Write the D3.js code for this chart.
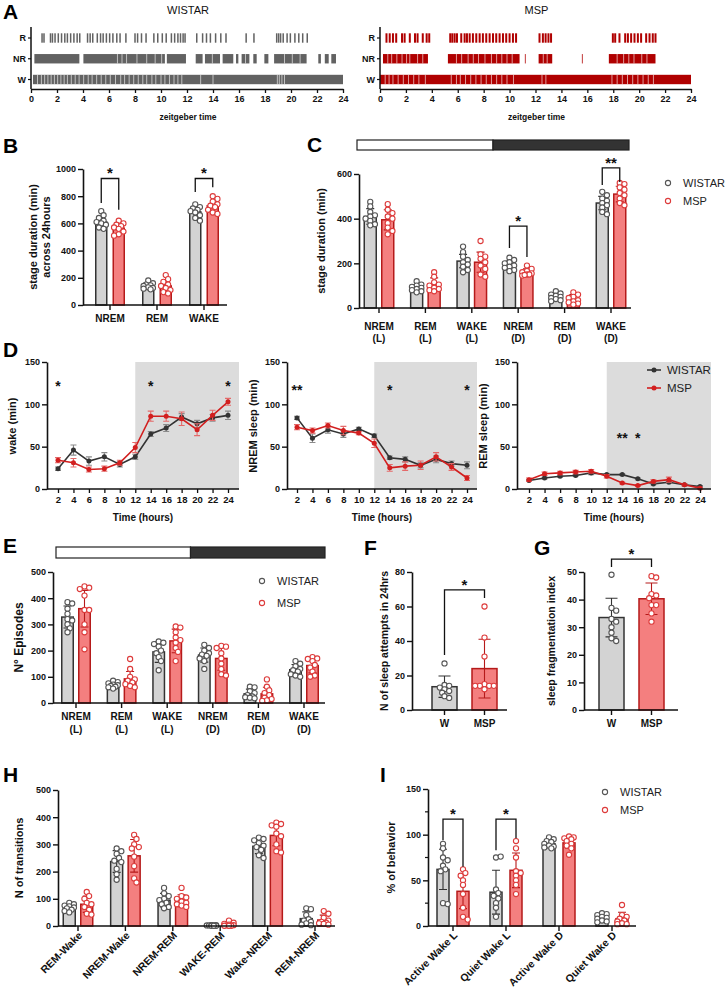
<!DOCTYPE html>
<html>
<head>
<meta charset="utf-8">
<script src="https://cdn.jsdelivr.net/npm/d3@7"></script>
<style>
body { margin: 0; background: #fff; }
svg { display: block; font-family: "Liberation Sans", Arial, sans-serif; }
</style>
</head>
<body>
<svg width="726" height="991"></svg>
<script>
const svg = d3.select("svg");
const FONT = "'Liberation Sans', Arial, sans-serif";

// colours used across panels
const GRAY = { fill: "#d3d3d3", line: "#333333", pt: "#555555" };
const RED = { fill: "#f47f7f", line: "#b51a1a", pt: "#dd3b3b" };

// ---------- A: hypnograms (zeitgeber hours) ----------
const hypTicks = [0, 2, 4, 6, 8, 10, 12, 14, 16, 18, 20, 22, 24];
const hypRows = ["R", "NR", "W"];

const wistarR = [0.85, 1.0, 1.5, 1.65, 1.85, 2.1, 2.35, 2.6, 2.8, 3.05, 3.3, 3.55, 3.75,
  4.35, 4.55, 4.75, 5.1, 5.35, 5.55, 5.8, 6.05, 6.3, 6.6, 6.85, 7.3, 8.0, 8.2, 8.5, 8.85,
  9.45, 9.75, 10.1, 10.4, 10.8, 11.05, 11.3, 11.5, 11.7, 11.85, 12.75, 13.2, 13.5, 13.8,
  14.2, 14.6, 15.0, 16.55, 17.15, 18.9, 19.05, 19.2, 19.4, 19.7, 19.95, 20.3, 20.6, 20.9, 21.25];
const wistarNR = [[0.26, 3.72], [4.03, 10.3], [10.45, 11.92], [12.67, 13.2], [13.38, 14.54],
  [14.74, 15.56], [15.77, 15.95], [16.2, 16.8], [17.1, 17.36], [17.95, 18.26], [18.7, 21.2],
  [22.1, 22.3], [22.6, 22.9], [23.1, 23.46]];
const wistarNRgaps = [6.65, 7.0, 7.35, 8.15, 8.9, 9.55, 10.05, 13.95, 16.5, 19.5, 20.1, 20.7];
const wistarW = [[0.15, 24]];
const wistarWgaps = [0.5, 0.8, 1.05, 1.3, 1.55, 1.8, 2.05, 2.3, 2.55, 2.8, 3.1, 3.4, 3.7, 4.05,
  4.4, 4.7, 5.05, 5.4, 5.75, 6.1, 6.5, 6.9, 7.2, 7.55, 7.9, 8.25, 8.6, 8.9, 9.3, 9.6, 10.0, 10.3,
  10.65, 11.0, 11.3, 11.6, 13.05, 14.0, 18.95, 19.1, 19.3, 19.5];

const mspR = [0.5, 0.75, 1.0, 1.25, 1.7, 1.9, 2.3, 2.7, 2.9, 3.3, 3.6, 3.8, 5.42, 5.58, 5.76,
  5.94, 6.27, 6.53, 6.71, 6.92, 7.17, 7.43, 7.69, 7.94, 8.2, 8.46, 8.72, 8.97, 9.23, 9.49, 9.74,
  10.0, 10.26, 10.5, 12.31, 12.57, 12.78, 13.0, 13.2, 17.97, 18.15, 18.48, 18.92, 19.13, 19.38,
  19.64, 19.9, 20.15, 20.54, 20.8, 21.05, 21.26];
const mspNR = [[0.23, 3.7], [5.24, 10.77], [11.18, 11.24], [12.24, 13.29], [15.58, 15.64], [17.66, 21.26]];
const mspNRgaps = [0.6, 0.9, 1.3, 1.7, 2.05, 2.3, 2.9, 3.3, 5.9, 6.3, 6.8, 7.2, 7.6, 8.1, 8.6, 9.0,
  9.4, 9.8, 10.2, 12.6, 12.9, 18.3, 18.8, 19.2, 19.6, 20.2, 20.6];
const mspW = [[0, 24]];
const mspWgaps = [0.4, 0.7, 1.0, 1.4, 1.8, 2.2, 2.6, 3.0, 3.5, 5.5, 5.9, 6.2, 6.6, 7.0, 7.4, 7.8,
  8.2, 8.6, 9.0, 9.4, 9.8, 10.3, 12.5, 12.8, 17.9, 18.3, 18.7, 19.1, 19.5, 19.9, 20.3, 20.7, 21.1];

// ---------- B: stage duration across 24h ----------
const bCats = [["NREM"], ["REM"], ["WAKE"]];
const bMeanW = [610, 140, 685];
const bMeanM = [565, 140, 730];
const bErrW = [15, 8, 12];
const bErrM = [12, 14, 14];
const bPtsW = [[690, 660, 640, 620, 610, 600, 590, 570, 560], [180, 160, 150, 145, 140, 130, 125, 120, 115],
  [740, 720, 710, 700, 690, 680, 660, 640, 620]];
const bPtsM = [[620, 600, 590, 580, 570, 560, 540, 520, 510], [220, 190, 170, 150, 140, 125, 110, 95, 85],
  [800, 780, 760, 740, 730, 720, 700, 680, 670]];

// ---------- C: stage duration light / dark ----------
const cCats = [["NREM", "(L)"], ["REM", "(L)"], ["WAKE", "(L)"], ["NREM", "(D)"], ["REM", "(D)"], ["WAKE", "(D)"]];
const cMeanW = [410, 90, 210, 190, 50, 470];
const cMeanM = [395, 105, 205, 160, 40, 510];
const cErrW = [35, 15, 30, 20, 15, 30];
const cErrM = [45, 30, 45, 15, 20, 35];
const cPtsW = [[475, 455, 430, 415, 410, 400, 390, 375, 370], [120, 105, 100, 95, 90, 85, 80, 75, 70],
  [275, 250, 230, 215, 205, 195, 185, 170, 160], [225, 215, 205, 200, 190, 185, 180, 170, 165],
  [75, 65, 60, 55, 50, 45, 40, 35, 30], [520, 505, 490, 480, 470, 460, 450, 430, 420]];
const cPtsM = [[465, 440, 425, 410, 400, 380, 360, 345, 330], [160, 140, 115, 105, 100, 90, 85, 80, 75],
  [300, 240, 230, 220, 205, 190, 175, 150, 140], [190, 175, 165, 160, 155, 150, 150, 145, 148],
  [70, 60, 50, 45, 35, 30, 25, 20, 15], [560, 555, 540, 530, 515, 505, 490, 470, 460]];

// ---------- D: hourly time course ----------
const dHours = [2, 4, 6, 8, 10, 12, 14, 16, 18, 20, 22, 24];
const wakeW = [24, 46, 33, 38, 29, 38, 65, 72, 85, 77, 84, 87];
const wakeWErr = [2, 6, 5, 5, 3, 3, 3, 4, 4, 4, 4, 5];
const wakeM = [34, 31, 23, 24, 31, 49, 86, 86, 83, 70, 87, 103];
const wakeMErr = [3, 5, 3, 3, 3, 6, 6, 6, 8, 7, 6, 4];
const nremW = [84, 60, 70, 65, 71, 63, 37, 35, 28, 35, 30, 28];
const nremWErr = [2, 5, 4, 4, 2, 2, 2, 3, 3, 4, 3, 4];
const nremM = [73, 69, 75, 69, 66, 54, 25, 27, 28, 38, 26, 13];
const nremMErr = [3, 3, 3, 5, 2, 5, 4, 5, 5, 5, 4, 3];
const remW = [10, 13, 15, 16, 19, 17, 17, 12, 6, 8, 5, 3];
const remWErr = [1, 1, 1, 1, 2, 1, 1, 1, 1, 1, 1, 1];
const remM = [11, 18, 19, 20, 21, 15, 7, 4, 9, 11, 5, 1];
const remMErr = [2, 2, 2, 2, 2, 2, 1, 1, 2, 3, 1, 1];
const dTicksY = [0, 50, 100, 150];

// ---------- E: number of episodes ----------
const eMeanW = [328, 70, 195, 183, 35, 127];
const eMeanM = [360, 92, 237, 170, 35, 143];
const eErrW = [42, 10, 40, 27, 18, 20];
const eErrM = [70, 28, 45, 45, 25, 28];
const ePtsW = [[385, 380, 360, 340, 320, 315, 300, 285, 270], [85, 80, 75, 70, 68, 65, 62, 60, 55],
  [235, 230, 225, 215, 200, 190, 175, 160, 125], [222, 210, 200, 190, 185, 180, 170, 160, 130],
  [62, 60, 45, 38, 30, 25, 22, 20, 18], [160, 150, 140, 130, 125, 120, 110, 105, 100]];
const ePtsM = [[445, 440, 435, 410, 355, 355, 300, 270, 205], [168, 130, 100, 90, 85, 78, 72, 65, 60],
  [292, 288, 270, 250, 240, 230, 210, 195, 160], [218, 215, 210, 190, 170, 150, 130, 110, 105],
  [90, 62, 48, 38, 30, 20, 15, 10, 8], [175, 170, 168, 160, 145, 135, 120, 105, 100]];

// ---------- F / G ----------
const fgCats = [["W"], ["MSP"]];
const fMean = [13.5, 24];
const fErr = [6.2, 17];
const fPts = [[27, 14.5, 14, 13, 12, 11, 10, 8, 7], [60, 42, 31, 15, 14, 14, 14, 14, 12]];
const gMean = [33.5, 40.3];
const gErr = [7, 5.7];
const gPts = [[49, 37, 36, 33, 32, 30, 28, 26, 25], [48.5, 48, 42, 41.5, 40.5, 38, 38, 35, 32]];

// ---------- H: transitions ----------
const hCats = ["REM-Wake", "NREM-Wake", "NREM-REM", "WAKE-REM", "Wake-NREM", "REM-NREM"];
const hMeanW = [67, 237, 95, 2, 293, 27];
const hMeanM = [80, 258, 93, 5, 333, 22];
const hErrW = [12, 40, 25, 1, 27, 25];
const hErrM = [30, 60, 22, 7, 38, 18];
const hPtsW = [[85, 80, 75, 72, 68, 65, 60, 55, 50], [285, 275, 265, 250, 240, 235, 210, 190, 170],
  [140, 120, 110, 100, 95, 85, 80, 70, 65], [3, 3, 2, 2, 2, 2, 1, 1, 1],
  [325, 320, 315, 305, 295, 290, 280, 260, 250], [65, 62, 40, 25, 20, 15, 10, 5, 3]];
const hPtsM = [[125, 110, 100, 85, 80, 70, 60, 45, 42], [335, 320, 300, 290, 285, 255, 220, 175, 160],
  [140, 110, 105, 100, 90, 85, 80, 75, 70], [20, 12, 8, 5, 3, 2, 1, 1, 1],
  [380, 375, 370, 365, 340, 330, 300, 275, 270], [55, 45, 30, 20, 15, 12, 10, 8, 5]];

// ---------- I: behaviour ----------
const iCats = ["Active Wake L", "Quiet Wake L", "Active Wake D", "Quiet Wake D"];
const iMeanW = [62, 37, 90, 9];
const iMeanM = [38, 61, 91, 8];
const iErrW = [22, 24, 4, 4];
const iErrM = [19, 19, 6, 7];
const iPtsW = [[90, 85, 75, 72, 66, 62, 60, 25, 24], [75, 76, 40, 36, 33, 30, 25, 20, 10],
  [97, 95, 93, 92, 90, 88, 87, 86, 85], [14, 13, 12, 10, 9, 8, 6, 5, 4]];
const iPtsM = [[62, 58, 55, 50, 45, 35, 20, 10, 7], [93, 85, 75, 60, 58, 55, 50, 45, 35],
  [98, 97, 96, 95, 93, 90, 88, 85, 78], [23, 12, 10, 8, 6, 5, 3, 2, 2]];

// ================= helpers =================
function txt(g, x, y, s, size, opts = {}) {
  return g.append("text").attr("x", x).attr("y", y).text(s)
    .attr("font-family", FONT).attr("font-size", size)
    .attr("font-weight", opts.bold ? "bold" : "normal")
    .attr("text-anchor", opts.anchor || "middle")
    .attr("fill", opts.fill || "#111");
}

function panelLetter(x, y, s) {
  txt(svg, x, y, s, 21, { bold: true, anchor: "start", fill: "#000" });
}

function yTitle(g, x, yc, lines, size = 11) {
  lines.forEach((l, k) => {
    g.append("text").attr("transform", `translate(${x + k * 13},${yc}) rotate(-90)`)
      .attr("text-anchor", "middle").attr("font-family", FONT).attr("font-size", size)
      .attr("font-weight", "bold").attr("fill", "#111").text(l);
  });
}

function yAxis(g, y, x, ticks, minor) {
  const ax = g.append("g").attr("transform", `translate(${x},0)`)
    .call(d3.axisLeft(y).tickValues(ticks).tickFormat(d3.format("d"))
      .tickSize(5).tickSizeOuter(0).tickPadding(2));
  ax.select(".domain").attr("stroke", "#111").attr("stroke-width", 1.6);
  ax.selectAll(".tick line").attr("stroke", "#111").attr("stroke-width", 1.4);
  ax.selectAll(".tick text").attr("font-family", FONT).attr("font-size", 9)
    .attr("font-weight", "bold").attr("fill", "#111");
  if (minor) {
    g.selectAll(null).data(minor).join("line")
      .attr("x1", x - 3).attr("x2", x).attr("y1", d => y(d)).attr("y2", d => y(d))
      .attr("stroke", "#111").attr("stroke-width", 1.2);
  }
}

// place points near the bar centre, nudging sideways only as much as needed
function dodge(ys, r, lim) {
  const placed = [];
  const cands = [0];
  for (let k = 1; k <= 8; k++) cands.push(k * r * 0.9, -k * r * 0.9);
  return ys.map(py => {
    let best = 0, bestD = -1;
    for (const c of cands) {
      if (Math.abs(c) > lim) continue;
      const dmin = placed.length ? d3.min(placed, p => Math.hypot(p[0] - c, p[1] - py)) : Infinity;
      if (dmin >= r * 1.6) { best = c; bestD = Infinity; break; }
      if (dmin > bestD) { bestD = dmin; best = c; }
    }
    placed.push([best, py]);
    return best;
  });
}

function star(g, x, yc, s, size = 15) {
  txt(g, x, yc + size * 0.55, s, size, { bold: true });
}

function legendDots(g, x, y, gap) {
  [["WISTAR", GRAY.pt], ["MSP", RED.pt]].forEach(([name, c], k) => {
    g.append("circle").attr("cx", x).attr("cy", y + k * gap).attr("r", 2.6)
      .attr("fill", "#fff").attr("stroke", c).attr("stroke-width", 1.1);
    txt(g, x + 15, y + k * gap + 4, name, 11, { anchor: "start", fill: "#222" });
  });
}

function lightDark(x0, x1, y, h) {
  const xm = (x0 + x1) / 2;
  svg.append("rect").attr("x", x0).attr("y", y).attr("width", xm - x0).attr("height", h)
    .attr("fill", "#fff").attr("stroke", "#222").attr("stroke-width", 1.2);
  svg.append("rect").attr("x", xm).attr("y", y).attr("width", x1 - xm).attr("height", h)
    .attr("fill", "#333").attr("stroke", "#222").attr("stroke-width", 1.2);
}

// ================= A =================
function hypno(o) {
  const g = svg.append("g");
  const x = d3.scaleLinear().domain([0, 24]).range(o.ax);
  const y = d3.scalePoint().domain(hypRows).range([38, 79.5]);
  const h = 9.4;
  const col = o.color;

  g.selectAll(null).data(o.R).join("rect")
    .attr("x", d => x(d) - o.rw / 2).attr("y", y("R") - h / 2).attr("width", o.rw).attr("height", h)
    .attr("fill", col);
  [["NR", o.NR, o.NRgaps], ["W", o.W, o.Wgaps]].forEach(([row, segs, gaps]) => {
    g.selectAll(null).data(segs).join("rect")
      .attr("x", d => x(d[0])).attr("y", y(row) - h / 2)
      .attr("width", d => x(d[1]) - x(d[0])).attr("height", h).attr("fill", col);
    g.selectAll(null).data(gaps).join("rect")
      .attr("x", d => x(d) - 0.5).attr("y", y(row) - h / 2).attr("width", 1).attr("height", h)
      .attr("fill", "#fff").attr("opacity", 0.6);
  });

  const xa = g.append("g").attr("transform", "translate(0,89)")
    .call(d3.axisBottom(x).tickValues(hypTicks).tickSize(4).tickSizeOuter(0).tickPadding(3));
  xa.select(".domain").attr("stroke", "#111").attr("stroke-width", 1.5);
  xa.selectAll(".tick line").attr("stroke", "#111").attr("stroke-width", 1.3);
  xa.selectAll(".tick text").attr("font-family", FONT).attr("font-size", 9)
    .attr("font-weight", "bold").attr("fill", "#111");

  g.append("line").attr("x1", o.ax[0]).attr("x2", o.ax[0]).attr("y1", 27).attr("y2", 89)
    .attr("stroke", "#111").attr("stroke-width", 1.5);
  hypRows.forEach(r => {
    g.append("line").attr("x1", o.ax[0] - 3).attr("x2", o.ax[0]).attr("y1", y(r)).attr("y2", y(r))
      .attr("stroke", "#111").attr("stroke-width", 1.2);
    txt(g, o.ax[0] - 5, y(r) + 3.3, r, 9, { bold: true, anchor: "end" });
  });
  txt(g, (o.ax[0] + o.ax[1]) / 2 + 1, 14, o.title, 11);
  txt(g, (o.ax[0] + o.ax[1]) / 2 + 1, 120, "zeitgeber time", 8.5, { bold: true });
}

panelLetter(3, 19, "A");
hypno({ ax: [31, 343], title: "WISTAR", color: "#626262", rw: 1.5,
  R: wistarR, NR: wistarNR, NRgaps: wistarNRgaps, W: wistarW, Wgaps: wistarWgaps });
hypno({ ax: [380, 691], title: "MSP", color: "#b00000", rw: 2,
  R: mspR, NR: mspNR, NRgaps: mspNRgaps, W: mspW, Wgaps: mspWgaps });

// ================= bar panels =================
function barPanel(o) {
  const g = svg.append("g");
  const y = d3.scaleLinear().domain([0, o.max]).range([o.y0, o.y1]);
  const x = d3.scalePoint().domain(o.cats.map((c, i) => i)).range(o.centers);
  const r = 2.6;

  o.series.forEach(s => {
    s.mean.forEach((m, i) => {
      if (m == null) return;
      const cx = x(i) + s.off;
      g.append("rect").attr("x", cx - o.bw / 2).attr("y", y(m))
        .attr("width", o.bw).attr("height", y(0) - y(m))
        .attr("fill", s.c.fill).attr("stroke", s.c.line).attr("stroke-width", 1.5);
      const e = s.err[i];
      const lo = y(Math.max(0, m - e)), hi = y(m + e), cap = o.cap;
      g.append("path")
        .attr("d", `M${cx},${lo}V${hi}M${cx - cap},${hi}H${cx + cap}M${cx - cap},${lo}H${cx + cap}`)
        .attr("fill", "none").attr("stroke", s.c.line).attr("stroke-width", 1.1);
      const ys = s.pts[i].map(v => y(v));
      const dx = dodge(ys, r, o.bw / 2 + (o.spread || 1));
      g.selectAll(null).data(ys).join("circle")
        .attr("cx", (d, k) => cx + dx[k]).attr("cy", d => d).attr("r", r)
        .attr("fill", "#fff").attr("stroke", s.c.pt).attr("stroke-width", 1.1);
    });
  });

  // axes
  yAxis(g, y, o.ax[0], o.ticks, o.minor);
  g.append("line").attr("x1", o.ax[0]).attr("x2", o.ax[1]).attr("y1", o.y0).attr("y2", o.y0)
    .attr("stroke", "#111").attr("stroke-width", 1.6);
  o.cats.forEach((c, i) => {
    g.append("line").attr("x1", x(i)).attr("x2", x(i)).attr("y1", o.y0).attr("y2", o.y0 + 5)
      .attr("stroke", "#111").attr("stroke-width", 1.4);
    if (o.rotate) {
      g.append("text").attr("transform", `translate(${x(i) + 5},${o.y0 + 10}) rotate(-45)`)
        .attr("text-anchor", "end").attr("font-family", FONT).attr("font-size", 10.5)
        .attr("font-weight", "bold").attr("fill", "#111").text(c);
    } else {
      c.forEach((line, k) => txt(g, x(i), o.y0 + o.lab1 + k * o.labStep, line, 10, { bold: true }));
    }
  });

  // significance brackets
  (o.brackets || []).forEach(b => {
    const xa = x(b.a[0]) + o.series[b.a[1]].off;
    const xb = x(b.b[0]) + o.series[b.b[1]].off;
    g.append("path")
      .attr("d", `M${xa},${y(b.l)}V${y(b.top)}H${xb}V${y(b.r)}`)
      .attr("fill", "none").attr("stroke", "#111").attr("stroke-width", 1.3);
    star(g, (xa + xb) / 2, y(b.top) - 8.5, b.t);
  });

  yTitle(g, o.titleX, (o.y0 + o.y1) / 2, o.title, o.titleSize || 11);
  return g;
}

// B
panelLetter(3, 153, "B");
barPanel({
  ax: [83, 227], centers: [110, 204], y0: 305, y1: 169, max: 1000, ticks: [0, 200, 400, 600, 800, 1000],
  bw: 11, cap: 3, cats: bCats, lab1: 17, labStep: 12,
  series: [{ mean: bMeanW, err: bErrW, pts: bPtsW, c: GRAY, off: -8.75 },
           { mean: bMeanM, err: bErrM, pts: bPtsM, c: RED, off: 8.75 }],
  brackets: [{ a: [0, 0], b: [0, 1], top: 930, l: 750, r: 700, t: "*" },
             { a: [2, 0], b: [2, 1], top: 930, l: 830, r: 865, t: "*" }],
  title: ["stage duration (min)", "across 24hours"], titleX: 37
});

// C
panelLetter(307, 152, "C");
lightDark(357, 629, 140, 10);
barPanel({
  ax: [359, 631], centers: [379, 611], y0: 308, y1: 174, max: 600, ticks: [0, 200, 400, 600],
  bw: 12, cap: 4, cats: cCats, lab1: 22, labStep: 12,
  series: [{ mean: cMeanW, err: cErrW, pts: cPtsW, c: GRAY, off: -8.75 },
           { mean: cMeanM, err: cErrM, pts: cPtsM, c: RED, off: 8.75 }],
  brackets: [{ a: [3, 0], b: [3, 1], top: 367, l: 269, r: 228, t: "*" },
             { a: [5, 0], b: [5, 1], top: 627, l: 551, r: 564, t: "**" }],
  title: ["stage duration (min)"], titleX: 325
});
legendDots(svg, 668, 183, 18);

// ================= D =================
function linePanel(o) {
  const g = svg.append("g");
  const x = d3.scaleLinear().domain([2, 24]).range(o.xr);
  const y = d3.scaleLinear().domain([0, 150]).range([489, 362]);
  g.append("rect").attr("x", x(12)).attr("y", y(150)).attr("width", o.ax[1] - x(12))
    .attr("height", y(0) - y(150)).attr("fill", "#dcdcdc");

  o.series.forEach(s => {
    g.selectAll(null).data(dHours).join("path")
      .attr("d", (h, i) => {
        const cx = x(h), a = y(s.v[i] - s.e[i]), b = y(s.v[i] + s.e[i]);
        return `M${cx},${a}V${b}M${cx - 3},${a}H${cx + 3}M${cx - 3},${b}H${cx + 3}`;
      })
      .attr("fill", "none").attr("stroke", s.ec).attr("stroke-width", 1.1);
    g.append("path").datum(s.v)
      .attr("d", d3.line().x((v, i) => x(dHours[i])).y(v => y(v)))
      .attr("fill", "none").attr("stroke", s.c).attr("stroke-width", 1.6);
    g.selectAll(null).data(s.v).join("circle")
      .attr("cx", (v, i) => x(dHours[i])).attr("cy", v => y(v)).attr("r", 2.5).attr("fill", s.c);
  });

  yAxis(g, y, o.ax[0], dTicksY);
  const xa = g.append("g").attr("transform", "translate(0,489)")
    .call(d3.axisBottom(x).tickValues(dHours).tickSize(4).tickSizeOuter(0).tickPadding(3));
  xa.select(".domain").remove();
  xa.selectAll(".tick line").attr("stroke", "#111").attr("stroke-width", 1.3);
  xa.selectAll(".tick text").attr("font-family", FONT).attr("font-size", 9.5)
    .attr("font-weight", "bold").attr("fill", "#111");
  g.append("line").attr("x1", o.ax[0]).attr("x2", o.ax[1]).attr("y1", 489).attr("y2", 489)
    .attr("stroke", "#111").attr("stroke-width", 1.6);

  o.stars.forEach(([h, s]) => star(g, x(h), y(o.starY), s, 14));
  txt(g, (o.ax[0] + o.ax[1]) / 2, 521, "Time (hours)", 10, { bold: true });
  yTitle(g, o.titleX, 426, [o.title]);
  return g;
}

panelLetter(3, 357, "D");
linePanel({
  ax: [47, 239], xr: [58, 228], title: "wake (min)", titleX: 16, starY: 125,
  stars: [[2, "*"], [14, "*"], [24, "*"]],
  series: [{ v: wakeW, e: wakeWErr, c: "#333", ec: "#8a8a8a" },
           { v: wakeM, e: wakeMErr, c: "#d21f1f", ec: "#e46a6a" }]
});
linePanel({
  ax: [287, 477], xr: [297, 467], title: "NREM sleep (min)", titleX: 257, starY: 120,
  stars: [[2, "**"], [14, "*"], [24, "*"]],
  series: [{ v: nremW, e: nremWErr, c: "#333", ec: "#8a8a8a" },
           { v: nremM, e: nremMErr, c: "#d21f1f", ec: "#e46a6a" }]
});
linePanel({
  ax: [517, 711], xr: [529, 700], title: "REM sleep (min)", titleX: 487, starY: 64,
  stars: [[14, "**"], [16, "*"]],
  series: [{ v: remW, e: remWErr, c: "#333", ec: "#8a8a8a" },
           { v: remM, e: remMErr, c: "#d21f1f", ec: "#e46a6a" }]
});
// line legend
[["WISTAR", "#333"], ["MSP", "#d21f1f"]].forEach(([name, c], k) => {
  const ly = 370 + k * 18;
  svg.append("line").attr("x1", 647).attr("x2", 661).attr("y1", ly).attr("y2", ly)
    .attr("stroke", c).attr("stroke-width", 1.6);
  svg.append("circle").attr("cx", 654).attr("cy", ly).attr("r", 2.5).attr("fill", c);
  txt(svg, 667, ly + 4.2, name, 11.5, { anchor: "start", fill: "#222" });
});

// ================= E =================
panelLetter(3, 553, "E");
lightDark(56, 325, 547, 11);
barPanel({
  ax: [53, 325], centers: [76, 304], y0: 703, y1: 572, max: 500, ticks: [0, 100, 200, 300, 400, 500],
  bw: 11.5, cap: 4, cats: cCats, lab1: 17, labStep: 13,
  series: [{ mean: eMeanW, err: eErrW, pts: ePtsW, c: GRAY, off: -8.5 },
           { mean: eMeanM, err: eErrM, pts: ePtsM, c: RED, off: 8.5 }],
  title: ["N° Episodes"], titleX: 23, titleSize: 12
});
legendDots(svg, 262, 581, 22);

// ================= F =================
panelLetter(364, 555, "F");
barPanel({
  ax: [412, 507], centers: [444.5, 484.5], y0: 710, y1: 572, max: 80, ticks: [0, 20, 40, 60, 80],
  bw: 25, cap: 6, cats: fgCats, lab1: 17, labStep: 12, spread: -1,
  series: [{ mean: [fMean[0], null], err: fErr, pts: fPts, c: GRAY, off: 0 },
           { mean: [null, fMean[1]], err: fErr, pts: fPts, c: RED, off: 0 }],
  brackets: [{ a: [0, 0], b: [1, 1], top: 69.6, l: 31.9, r: 65, t: "*" }],
  title: ["N of sleep attempts in 24hrs"], titleX: 388, titleSize: 10.5
});

// ================= G =================
panelLetter(534, 555, "G");
barPanel({
  ax: [584, 678], centers: [611.5, 651.5], y0: 710, y1: 572, max: 50, ticks: [0, 10, 20, 30, 40, 50],
  bw: 25, cap: 6, cats: fgCats, lab1: 17, labStep: 12, spread: -4,
  series: [{ mean: [gMean[0], null], err: gErr, pts: gPts, c: GRAY, off: 0 },
           { mean: [null, gMean[1]], err: gErr, pts: gPts, c: RED, off: 0 }],
  brackets: [{ a: [0, 0], b: [1, 1], top: 54.7, l: 51.8, r: 51.8, t: "*" }],
  title: ["sleep fragmentation index"], titleX: 555, titleSize: 10.5
});

// ================= H =================
panelLetter(3, 782, "H");
barPanel({
  ax: [58, 335], centers: [78, 315], y0: 926, y1: 790, max: 500, ticks: [0, 100, 200, 300, 400, 500],
  bw: 12, cap: 4, cats: hCats, rotate: true,
  series: [{ mean: hMeanW, err: hErrW, pts: hPtsW, c: GRAY, off: -8.75 },
           { mean: hMeanM, err: hErrM, pts: hPtsM, c: RED, off: 8.75 }],
  title: ["N of transitions"], titleX: 23
});

// ================= I =================
panelLetter(380, 782, "I");
barPanel({
  ax: [428, 636], centers: [453, 612], y0: 926, y1: 789, max: 150, ticks: [0, 50, 100, 150],
  minor: [25, 75, 125], bw: 12, cap: 4, cats: iCats, rotate: true,
  series: [{ mean: iMeanW, err: iErrW, pts: iPtsW, c: GRAY, off: -10 },
           { mean: iMeanM, err: iErrM, pts: iPtsM, c: RED, off: 10 }],
  brackets: [{ a: [0, 0], b: [0, 1], top: 117, l: 94, r: 65, t: "*" },
             { a: [1, 0], b: [1, 1], top: 117, l: 83, r: 96, t: "*" }],
  title: ["% of behavior"], titleX: 395
});
legendDots(svg, 605, 792, 18);
</script>
</body>
</html>
